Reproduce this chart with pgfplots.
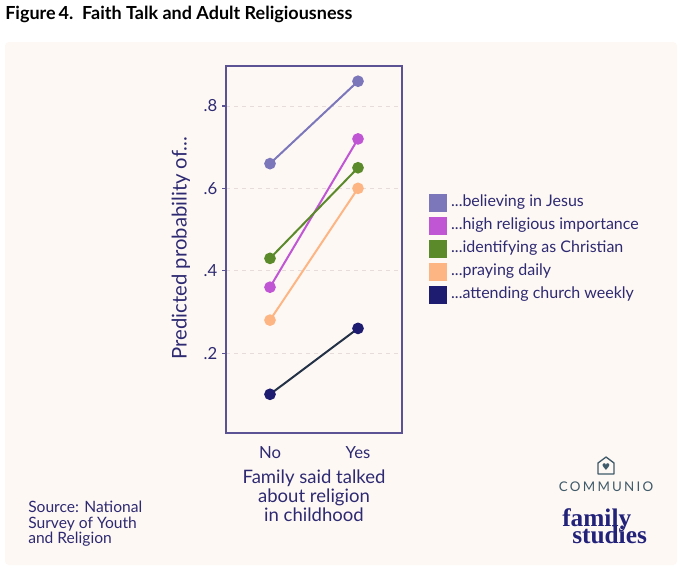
\documentclass[border=0pt]{standalone}
\usepackage{pgfplots}
\pgfplotsset{compat=1.18}
\usepackage{fontspec}
\setmainfont{Lato}
\newfontfamily\logoserif{Liberation Serif}
\newfontfamily\symfont{DejaVu Sans}
\newcommand\logofont{\logoserif\bfseries\fontsize{19}{13.2}\selectfont\setlength{\lineskiplimit}{-50pt}\setlength{\lineskip}{0pt}}
\definecolor{panel}{HTML}{FEF8F4}
\definecolor{navy}{HTML}{2E2A72}
\definecolor{axcol}{HTML}{5B5394}
\definecolor{gridcol}{HTML}{E6DDDA}
\definecolor{believing}{HTML}{7B77BA}
\definecolor{highimp}{HTML}{C056D4}
\definecolor{christian}{HTML}{5B8A2B}
\definecolor{praying}{HTML}{FDB584}
\definecolor{church}{HTML}{1E1C70}
\definecolor{churchline}{HTML}{243248}
\definecolor{logogrey}{HTML}{3F5A6A}
\definecolor{logonavy}{HTML}{22227A}
\begin{document}
\begin{tikzpicture}[x=0.75pt,y=-0.75pt]
\fill[white] (0,0) rectangle (680,569);
\fill[panel, rounded corners=3pt] (5,42) rectangle (677,565);
\node[anchor=base west, inner sep=0pt, font=\fontsize{13.5}{16}\selectfont\bfseries] at (5,19) {Figure\,4.\ \ Faith Talk and Adult Religiousness};
\begin{axis}[
  at={(169.5pt,-324.75pt)}, anchor=south west,
  scale only axis, width=132pt, height=275.25pt,
  xmin=-0.5, xmax=1.5, ymin=0.006, ymax=0.897,
  xtick={0,1}, xticklabels={No,Yes},
  ytick={0.2,0.4,0.6,0.8}, yticklabels={.2,.4,.6,.8},
  ytick pos=left,
  x tick style={draw=none},
  y tick style={draw=axcol, line width=0.9pt},
  tick align=outside, major tick length=3pt,
  axis line style={draw=axcol, line width=1pt},
  ymajorgrids, grid style={draw=gridcol, dash pattern=on 3pt off 3pt, line width=0.6pt},
  tick label style={font=\fontsize{12.5}{14}\selectfont, text=navy},
  xticklabel style={yshift=-3.5pt},
  /pgf/number format/assume math mode=true,
  axis background/.style={fill=panel},
  clip=false,
  legend cell align=left,
  legend style={at={(1.153,0.654)}, anchor=north west, draw=none, fill=none, inner sep=0pt,
    font=\fontsize{12}{14}\selectfont, text=navy, row sep=3.25pt,
    nodes={inner sep=1pt, text height=9pt, text depth=3pt},
    /tikz/every odd column/.append style={column sep=2pt}},
  legend image code/.code={\fill[#1] (0pt,-6pt) rectangle (12pt,6pt);},
  every axis plot/.append style={line width=1.5pt, mark=*, mark size=3.6pt},
]
\addplot[color=believing] coordinates {(0,0.66) (1,0.86)};
\addlegendentry{...believing in Jesus}
\addplot[color=highimp] coordinates {(0,0.36) (1,0.72)};
\addlegendentry{...high religious importance}
\addplot[color=christian] coordinates {(0,0.43) (1,0.65)};
\addlegendentry{...identifying as Christian}
\addplot[color=praying] coordinates {(0,0.28) (1,0.60)};
\addlegendentry{...praying daily}
\addplot[color=churchline, mark options={fill=church, draw=church},
  legend image code/.code={\fill[church] (0pt,-6pt) rectangle (12pt,6pt);}] coordinates {(0,0.10) (1,0.26)};
\addlegendentry{...attending church weekly}
\end{axis}
\node[rotate=90, text=navy, font=\fontsize{15.2}{18}\selectfont, inner sep=0pt] at (181,248) {Predicted probability of...};
\node[text=navy, font=\fontsize{13.9}{13.9}\selectfont, align=center, anchor=north, inner sep=0pt] at (314,470) {Family said talked\\about religion\\in childhood};
\node[text=navy, font=\fontsize{11.7}{11.6}\selectfont, align=left, anchor=north west, inner sep=0pt] at (28,501) {Source: National\\Survey of Youth\\and Religion};
% logo
\draw[logogrey, line width=1pt, line join=round] (598,474) -- (598,463) -- (606,457) -- (614,463) -- (614,474) -- cycle;
\node[text=logogrey, font=\symfont\fontsize{7}{8}\selectfont, inner sep=0pt] at (606,467) {♥};
\node[text=logogrey, font=\fontsize{10}{12}\selectfont, inner sep=0pt] at (606,487) {C\,O\,M\,M\,U\,N\,I\,O};
\node[text=logonavy, font=\logofont, align=left, anchor=north west, inner sep=0pt] at (562,508) {family\\\hspace*{7.5pt}studies};
\end{tikzpicture}
\end{document}
